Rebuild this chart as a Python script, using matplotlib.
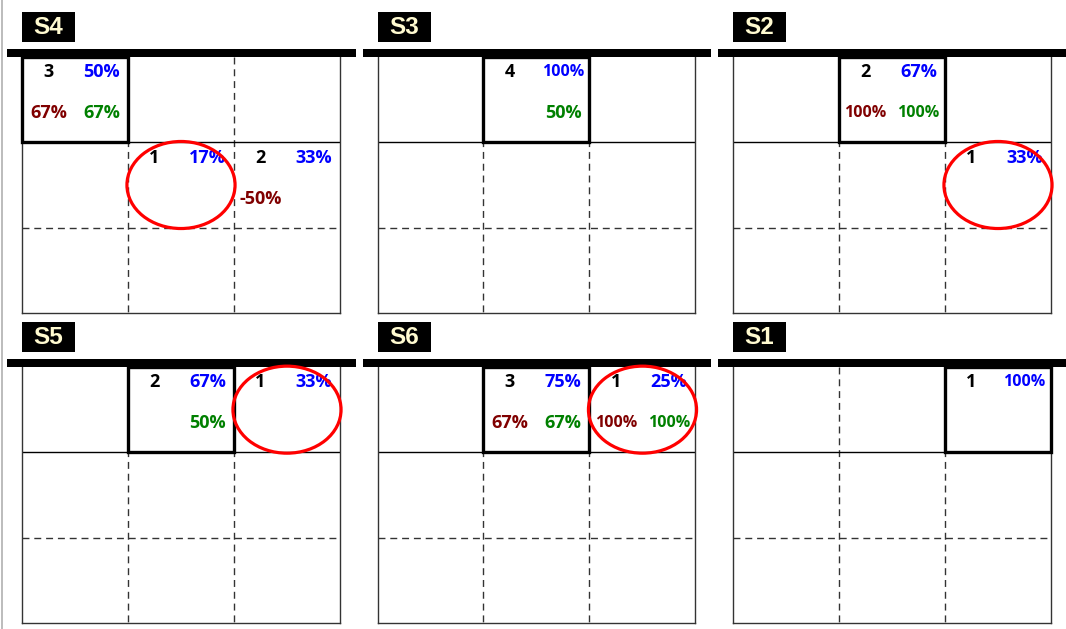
import matplotlib.pyplot as plt
from matplotlib.patches import Rectangle, Ellipse
from matplotlib.lines import Line2D

# panels, in reading order
panel_names = ["S4", "S3", "S2", "S5", "S6", "S1"]
box_col = [0, 1, 1, 1, 1, 2]   # highlighted cell in the first row

# cells with numbers
cell_panel = [0, 0, 0, 1, 2, 2, 3, 3, 4, 4, 5]
cell_col = [0, 1, 2, 1, 1, 2, 1, 2, 1, 2, 2]
cell_row = [0, 1, 1, 0, 0, 1, 0, 0, 0, 0, 0]
cell_count = [3, 1, 2, 4, 2, 1, 2, 1, 3, 1, 1]
cell_blue = [50, 17, 33, 100, 67, 33, 67, 33, 75, 25, 100]
cell_red = [67, None, -50, None, 100, None, None, None, 67, 100, None]
cell_green = [67, None, None, 50, 100, None, 50, None, 67, 100, None]

# red circles
circle_panel = [0, 2, 3, 4]
circle_col = [1, 2, 2, 2]
circle_row = [1, 1, 0, 0]

W, H = 1066, 629
fig = plt.figure(figsize=(W / 100, H / 100), dpi=100)
plt.rcParams['font.family'] = ['Open Sans', 'DejaVu Sans']

fig.add_artist(Line2D([0.0015, 0.0015], [0, 1], transform=fig.transFigure,
                      color='#b0b0b0', lw=1.2))


def pct_text(ax, x, y, v, color):
    fs = 11.5 if abs(v) >= 100 else 13
    ax.text(x, y, f"{v}%", color=color, fontsize=fs, fontweight='bold',
            ha='center', va='center', zorder=5)


axes = []
for i, name in enumerate(panel_names):
    r, c = divmod(i, 3)
    left = 22 + c * 355.5
    top = 57 + r * 310
    ax = fig.add_axes([left / W, 1 - (top + 256) / H, 318 / W, 256 / H])
    ax.set_xlim(0, 3)
    ax.set_ylim(3, 0)
    ax.set_xticks([])
    ax.set_yticks([])
    for s in ['left', 'bottom', 'right']:
        ax.spines[s].set_color('#333333')
        ax.spines[s].set_linewidth(1)
    ax.spines['top'].set_visible(False)

    # grid lines
    for x in [1, 2]:
        ax.plot([x, x], [0, 3], color='#333333', lw=1, dashes=(5, 3.5), zorder=1)
    ax.plot([0, 3], [2, 2], color='#333333', lw=1, dashes=(5, 3.5), zorder=1)
    ax.plot([0, 3], [1, 1], color='black', lw=1, zorder=2)

    # highlighted box
    ax.add_patch(Rectangle((box_col[i], 0), 1, 1, fill=False, ec='black',
                           lw=2.4, zorder=3, clip_on=False))

    # thick top bar
    ax.add_patch(Rectangle((-0.14, -0.095), 3.29, 0.095, color='black',
                           lw=0, zorder=4, clip_on=False))

    # label
    ax.add_patch(Rectangle((0, -0.53), 0.5, 0.35, color='black', lw=0,
                           clip_on=False))
    ax.text(0.25, -0.35, name, color='#FFFAD0', fontsize=17.5, fontweight='bold',
            family='Liberation Sans', ha='center', va='center')
    axes.append(ax)

for k in range(len(cell_panel)):
    ax = axes[cell_panel[k]]
    x0, y0 = cell_col[k], cell_row[k]
    ax.text(x0 + 0.25, y0 + 0.18, str(cell_count[k]), color='black',
            fontsize=13, fontweight='bold', ha='center', va='center', zorder=5)
    pct_text(ax, x0 + 0.75, y0 + 0.18, cell_blue[k], '#0000FF')
    if cell_red[k] is not None:
        pct_text(ax, x0 + 0.25, y0 + 0.66, cell_red[k], '#800000')
    if cell_green[k] is not None:
        pct_text(ax, x0 + 0.75, y0 + 0.66, cell_green[k], '#008000')

for k in range(len(circle_panel)):
    ax = axes[circle_panel[k]]
    ax.add_patch(Ellipse((circle_col[k] + 0.5, circle_row[k] + 0.5), 1.02, 1.02,
                         fill=False, ec='#FF0000', lw=2.3, zorder=6, clip_on=False))

fig.savefig('out.png', dpi=100)
